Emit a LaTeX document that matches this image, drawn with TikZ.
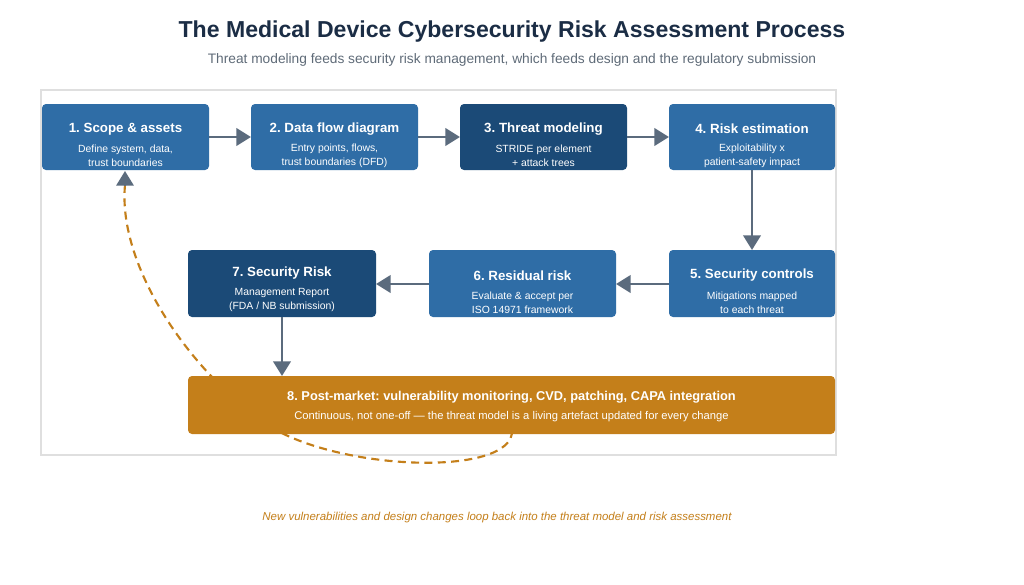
\documentclass[tikz,border=0pt]{standalone}
\usepackage{fontspec}
\setmainfont{Liberation Sans}
\usetikzlibrary{arrows.meta}
\definecolor{bl}{HTML}{2F6DA6}
\definecolor{dk}{HTML}{1B4A77}
\definecolor{og}{HTML}{C47F1A}
\definecolor{ar}{HTML}{5B6B7D}
\definecolor{ti}{HTML}{1B2D45}
\definecolor{sub}{HTML}{5F6B78}
\frenchspacing
\tikzset{
 box/.style={draw=none,rounded corners=3pt,text=white,align=center,inner sep=0pt},
 hd/.style={font=\fontsize{10}{12}\selectfont\bfseries},
 bd/.style={font=\fontsize{7.8}{10.2}\selectfont},
 arr/.style={draw=ar,line width=2.2pt,-{Triangle[length=11pt,width=13pt]}},
}
\begin{document}
\begin{tikzpicture}[x=0.75pt,y=-0.75pt]
\useasboundingbox (0,0) rectangle (1024,585);
\fill[white] (0,0) rectangle (1024,585);
\node (t) at (512,32) {\fontsize{17.3}{20}\selectfont\bfseries\color{ti}The Medical Device Cybersecurity Risk Assessment Process};
\node (s) at (512,60) {\fontsize{10.3}{12}\selectfont\color{sub}Threat modeling feeds security risk management, which feeds design and the regulatory submission};
\draw[draw=gray!25,line width=0.8pt] (41,90) rectangle (836,455);
% dashed loop (behind box 8)
\coordinate (ls) at (512,430);
\coordinate (lm) at (260,420);
\draw[og,line width=1.6pt,dash pattern=on 6pt off 4pt]
 (ls) .. controls (515,478) and (330,472) .. (lm) .. controls (180,360) and (118,260) .. (125,185);
\coordinate (tipA) at (125,186); \coordinate (tipB) at (125,171);
\draw[ar,line width=1.6pt,-{Triangle[length=11pt,width=13pt]}] (tipA) -- (tipB);
\newcommand\bx[8]{\fill[#8,rounded corners=3pt] (#1,#2) rectangle (#3,#4);
 \node[box] (#5) at ({(#1+#3)/2},{(#2+#4)/2}) {};
 \node[hd,text=white] at ({(#1+#3)/2},{(#2+#4)/2-8}) {#6};
 \node[bd,text=white,align=center] at ({(#1+#3)/2},{(#2+#4)/2+19}) {#7};}
\bx{42}{104}{209}{170}{b1}{1. Scope \& assets}{Define system, data,\\trust boundaries}{bl}
\bx{251}{104}{418}{170}{b2}{2. Data flow diagram}{Entry points, flows,\\trust boundaries (DFD)}{bl}
\bx{460}{104}{627}{170}{b3}{3. Threat modeling}{STRIDE per element\\+ attack trees}{dk}
\bx{669}{104}{835}{170}{b4}{4. Risk estimation}{Exploitability x\\patient-safety impact}{bl}
\bx{669}{250}{835}{317}{b5}{5. Security controls}{Mitigations mapped\\to each threat}{bl}
\bx{429}{250}{616}{317}{b6}{6. Residual risk}{Evaluate \& accept per\\ISO 14971 framework}{bl}
\fill[dk,rounded corners=3pt] (188,250) rectangle (376,317);
\node[box] (b7) at (282,283.5) {};
\node[hd,text=white] at (282,273) {7. Security Risk};
\node[bd,text=white,align=center] at (282,300) {Management Report\\(FDA / NB submission)};
\fill[og,rounded corners=3pt] (188,376) rectangle (835,434);
\node[box] (b8) at (511.5,405) {};
\node[text=white,font=\fontsize{9.6}{12}\selectfont\bfseries] at (511.5,397) {8. Post-market: vulnerability monitoring, CVD, patching, CAPA integration};
\node[text=white,font=\fontsize{8.4}{10}\selectfont] at (511.5,417) {Continuous, not one-off --- the threat model is a living artefact updated for every change};
\coordinate (a1) at (209,137); \coordinate (a2) at (251,137);
\coordinate (a3) at (418,137); \coordinate (a4) at (460,137);
\coordinate (a5) at (627,137); \coordinate (a6) at (669,137);
\draw[arr] (a1) -- (a2);
\draw[arr] (a3) -- (a4);
\draw[arr] (a5) -- (a6);
\coordinate (d1) at (752,170); \coordinate (d2) at (752,250);
\draw[arr] (d1) -- (d2);
\coordinate (e1) at (669,284); \coordinate (e2) at (616,284);
\draw[arr] (e1) -- (e2);
\coordinate (f1) at (429,284); \coordinate (f2) at (376,284);
\draw[arr] (f1) -- (f2);
\coordinate (g1) at (282,317); \coordinate (g2) at (282,376);
\draw[arr] (g1) -- (g2);
\node (fn) at (497,518) {\fontsize{8.6}{10}\selectfont\itshape\color{og}New vulnerabilities and design changes loop back into the threat model and risk assessment};
\end{tikzpicture}
\end{document}
